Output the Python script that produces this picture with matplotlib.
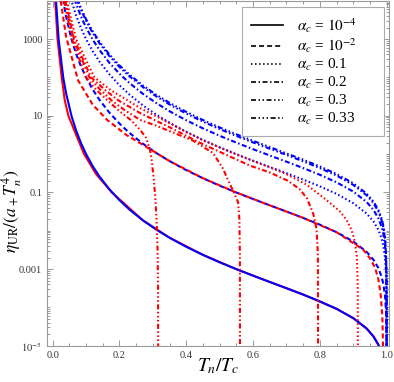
import matplotlib
matplotlib.use("Agg")
import matplotlib.pyplot as plt
from matplotlib.ticker import FixedLocator, FixedFormatter, LogLocator, MultipleLocator, NullFormatter
from matplotlib.lines import Line2D

plt.rcParams['font.family'] = 'serif'
plt.rcParams['font.serif'] = ['Liberation Serif', 'DejaVu Serif']
plt.rcParams['mathtext.fontset'] = 'stix'
plt.rcParams['lines.scale_dashes'] = False

alphas = ['$10^{-4}$', '$10^{-2}$', '0.1', '0.2', '0.3', '0.33']

# blue curves share one T grid
t_blue = [0.01, 0.0178, 0.0316, 0.04, 0.0562, 0.07, 0.085, 0.1, 0.12, 0.14, 0.17, 0.2,
          0.23, 0.27, 0.31, 0.35, 0.4, 0.45, 0.5, 0.55, 0.6, 0.65, 0.7, 0.75, 0.8, 0.85,
          0.9, 0.94, 0.96, 0.975, 0.985, 0.99, 0.995, 0.998, 0.9995, 0.9999, 1.0]
blue_1e4 = [1e4, 996, 100, 39.1, 10.0, 4.16, 1.92, 1.0, 0.482, 0.26, 0.12, 0.0624,
            0.0356, 0.0187, 0.0107, 0.00656, 0.00381, 0.00234, 0.0015, 9.93e-4, 6.72e-4,
            4.6e-4, 3.17e-4, 2.16e-4, 1.44e-4, 9.16e-5, 5.24e-5, 2.81e-5, 1.77e-5, 1.07e-5,
            6.2e-6, 4.1e-6, 2.0e-6, 8e-7, 2e-7, 4e-8, 1e-9]
blue_1e2 = [1e6, 9.96e4, 1e4, 3906, 1002, 416, 192, 100, 48.2, 26.0, 12.0, 6.24,
            3.56, 1.87, 1.07, 0.656, 0.381, 0.234, 0.15, 0.0993, 0.0672, 0.046, 0.0317,
            0.0216, 0.0144, 0.00916, 0.00524, 0.00281, 0.00177, 0.00107, 6.24e-4, 4.1e-4,
            2.03e-4, 8.0e-5, 2.0e-5, 4e-6, 1e-7]
blue_01 = [1e7, 9.96e5, 1e5, 3.9e4, 1e4, 4165, 1916, 1000, 482, 260, 120, 62.4,
           35.6, 18.7, 10.7, 6.56, 3.81, 2.34, 1.5, 0.993, 0.672, 0.46, 0.317, 0.216,
           0.144, 0.0916, 0.0524, 0.0281, 0.0177, 0.0107, 0.00624, 0.0041, 0.00203,
           8.0e-4, 2.0e-4, 4e-5, 1e-7]
blue_02 = [2e7, 1.99e6, 2e5, 7.8e4, 2e4, 8330, 3831, 2000, 964, 520, 239, 125,
           71.3, 37.4, 21.5, 13.1, 7.61, 4.68, 3.0, 1.99, 1.34, 0.92, 0.633, 0.432,
           0.288, 0.183, 0.105, 0.0562, 0.0355, 0.0213, 0.0125, 0.0082, 0.00405,
           0.00161, 4.0e-4, 8e-5, 1e-7]
blue_03 = [3e7, 2.99e6, 3e5, 1.17e5, 3e4, 1.25e4, 5747, 3000, 1446, 781, 359, 187,
           107, 56.2, 32.2, 19.7, 11.4, 7.02, 4.5, 2.98, 2.01, 1.38, 0.95, 0.648,
           0.432, 0.275, 0.157, 0.0842, 0.0532, 0.032, 0.0187, 0.0123, 0.00608,
           0.00241, 6.0e-4, 1.2e-4, 1e-7]
blue_033 = [3.3e7, 3.29e6, 3.3e5, 1.29e5, 3.3e4, 1.37e4, 6322, 3300, 1591, 859, 395, 206,
            118, 61.8, 35.4, 21.7, 12.6, 7.72, 4.95, 3.28, 2.22, 1.52, 1.04, 0.713,
            0.476, 0.302, 0.173, 0.0927, 0.0585, 0.0352, 0.0206, 0.0135, 0.00668,
            0.00265, 6.6e-4, 1.3e-4, 1e-7]

# red curves
t_red_1e4 = [0.0075, 0.0145, 0.027, 0.036, 0.047, 0.07, 0.094, 0.13, 0.177, 0.27, 0.35,
             0.45, 0.55, 0.65, 0.75, 0.85, 0.9, 0.94, 0.96, 0.975, 0.985]
red_1e4 = [1e4, 1000, 100, 25.7, 10, 3.2, 1.0, 0.3, 0.1, 0.0187, 0.00656,
           0.00234, 9.93e-4, 4.6e-4, 2.16e-4, 9.16e-5, 5.24e-5, 2.81e-5, 1.77e-5, 1.07e-5, 6.2e-6]
t_red_1e2 = [0.024, 0.04, 0.076, 0.12, 0.163, 0.22, 0.282, 0.35, 0.45, 0.55, 0.65, 0.75,
             0.85, 0.93, 0.95, 0.965, 0.975, 0.982, 0.987, 0.989, 0.9895]
red_1e2 = [1e4, 1170, 84, 19.3, 7.8, 3.18, 1.51, 0.656, 0.234, 0.0993, 0.046, 0.0216,
           0.00916, 0.0032, 0.0019, 0.0011, 5.5e-4, 2.2e-4, 6e-5, 1.2e-5, 1e-7]
t_red_01 = [0.042, 0.07, 0.125, 0.175, 0.223, 0.262, 0.3, 0.35, 0.4, 0.45, 0.5, 0.55,
            0.6, 0.65, 0.7, 0.76, 0.82, 0.86, 0.88, 0.895, 0.905, 0.911, 0.9135, 0.914]
red_01 = [1e4, 1000, 100, 45.7, 25.7, 15.8, 10.7, 6.4, 3.75, 2.3, 1.48, 0.98,
          0.66, 0.45, 0.3, 0.16, 0.063, 0.032, 0.019, 0.0105, 0.005, 0.002, 3e-4, 1e-7]
t_red_02 = [0.038, 0.064, 0.115, 0.16, 0.195, 0.262, 0.35, 0.442, 0.52, 0.59, 0.65,
            0.705, 0.74, 0.761, 0.78, 0.79, 0.794, 0.795]
red_02 = [1e4, 1000, 100, 44.7, 25.7, 11.7, 5.01, 1.95, 0.955, 0.501, 0.331,
          0.2, 0.12, 0.0708, 0.0282, 0.0112, 0.00251, 1e-7]
t_red_03 = [0.036, 0.062, 0.11, 0.14, 0.175, 0.215, 0.262, 0.31, 0.35, 0.42, 0.48,
            0.51, 0.525, 0.54, 0.555, 0.559, 0.5605, 0.561]
red_03 = [1e4, 1000, 100, 50.1, 25.7, 14.1, 7.76, 5.5, 3.98, 2.24, 1.07,
          0.417, 0.209, 0.112, 0.0562, 0.02, 0.0025, 1e-7]
t_red_033 = [0.034, 0.058, 0.1, 0.13, 0.163, 0.2, 0.235, 0.262, 0.28, 0.291, 0.297,
             0.302, 0.307, 0.311, 0.314, 0.3155, 0.316]
red_033 = [1e4, 1000, 100, 47.9, 25.7, 13.2, 7.59, 4.27, 2.63, 1.32, 0.631,
           0.251, 0.0794, 0.02, 3.16e-3, 3.16e-4, 1e-7]

styles = ['-', (0, (3.6, 2.2)), (0, (1.1, 1.8)), (0, (3.6, 1.8, 1.1, 1.8)),
          (0, (3.6, 1.8, 1.1, 1.8, 1.1, 1.8)), (0, (3.6, 1.8, 1.1, 1.8, 1.1, 1.8, 1.1, 1.8))]

blue = [blue_1e4, blue_1e2, blue_01, blue_02, blue_03, blue_033]
reds = [(t_red_1e2, red_1e2), (t_red_01, red_01), (t_red_02, red_02),
        (t_red_03, red_03), (t_red_033, red_033)]

fig = plt.figure(figsize=(3.94, 3.82), dpi=100)
ax = fig.add_axes([0.1193, 0.095, 0.868, 0.903])

lw = 1.5
ax.plot(t_red_1e4, red_1e4, color='#ff0000', lw=lw, ls='-', zorder=1)
for y, ls in zip(blue, styles):
    ax.plot(t_blue, y, color='#0000ff', lw=lw, ls=ls, zorder=2)
for (t, y), ls in zip(reds, styles[1:]):
    ax.plot(t, y, color='#ff0000', lw=lw, ls=ls, zorder=3)

ax.set_yscale('log')
ax.set_xlim(-0.017, 1.007)
ax.set_ylim(1e-5, 1e4)

ax.xaxis.set_major_locator(FixedLocator([0, 0.2, 0.4, 0.6, 0.8, 1.0]))
ax.xaxis.set_major_formatter(FixedFormatter(['0.0', '0.2', '0.4', '0.6', '0.8', '1.0']))
ax.xaxis.set_minor_locator(MultipleLocator(0.05))
ax.yaxis.set_major_locator(FixedLocator([1e-5, 1e-3, 1e-1, 10, 1000]))
ax.yaxis.set_major_formatter(FixedFormatter([r'$10^{-5}$', '0.001', '0.1', '10', '1000']))
ax.yaxis.set_minor_locator(LogLocator(base=10, subs=range(1, 10), numticks=30))
ax.yaxis.set_minor_formatter(NullFormatter())

ax.tick_params(which='both', direction='in', top=True, right=True,
               color='#888888', labelcolor='#333333', labelsize=7.5, width=0.6)
ax.tick_params(which='major', length=4)
ax.tick_params(which='minor', length=2.2)
for s in ax.spines.values():
    s.set_color('#999999')
    s.set_linewidth(0.8)

ax.set_xlabel(r'$T_n/T_c$', fontsize=14)
ax.set_ylabel(r'$\eta_{\mathrm{UR}}/(a_+ T_n^4)$', fontsize=12.5)
ax.xaxis.set_label_coords(0.5, -0.03)
ax.yaxis.set_label_coords(-0.068, 0.39)

handles = [Line2D([], [], color='black', lw=1.2, ls=ls) for ls in styles]
labels = [r'$\alpha_c$ = ' + a for a in alphas]
leg = ax.legend(handles, labels, loc='upper left', bbox_to_anchor=(0.57, 0.617, 0.415, 0.365),
                mode='expand', borderaxespad=0, fontsize=11, frameon=True, fancybox=False,
                handlelength=2.1, handletextpad=0.9, labelspacing=0.12,
                borderpad=0.6, framealpha=1)
leg.get_frame().set_edgecolor('#aaaaaa')
leg.get_frame().set_linewidth(0.8)

fig.savefig('out.png', dpi=100)
